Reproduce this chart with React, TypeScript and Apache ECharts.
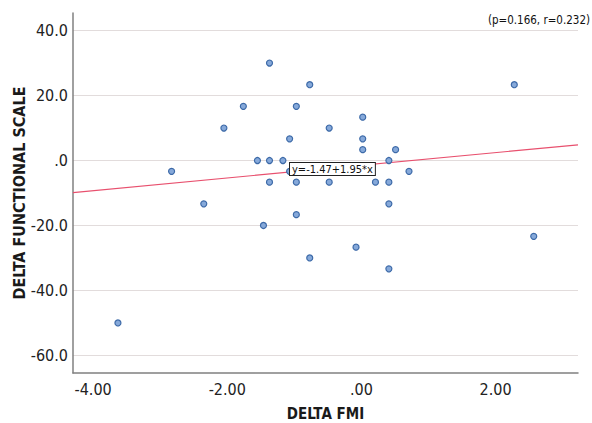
import React, { useEffect, useRef } from "react";
import * as echarts from "echarts";

// Delta FMI (x) and Delta Functional Scale (y)
const fmiDelta = [
  -3.63, -2.83, -2.35, -2.05, -1.76, -1.55, -1.46, -1.37, -1.37, -1.37, -1.17,
  -1.07, -1.07, -0.97, -0.97, -0.97, -0.77, -0.77, -0.48, -0.48, -0.08, 0.02,
  0.02, 0.02, 0.21, 0.41, 0.41, 0.41, 0.41, 0.51, 0.71, 2.28, 2.57,
];
const functionalDelta = [
  -50, -3.33, -13.33, 10, 16.67, 0, -20, 30, 0, -6.67, 0,
  6.67, -3.33, 16.67, -6.67, -16.67, 23.33, -30, 10, -6.67, -26.67, 13.33,
  6.67, 3.33, -6.67, 0, -6.67, -13.33, -33.33, 3.33, -3.33, 23.33, -23.33,
];

const xTicks = [-4, -2, 0, 2];
const yTicks = [-60, -40, -20, 0, 20, 40];
const xRange = [-4.3, 3.23];
const yRange = [-65.4, 45.4];

const intercept = -1.47;
const slope = 1.95;
const fitLabel = "y=-1.47+1.95*x";
const statsLabel = "(p=0.166, r=0.232)";
const xTitle = "DELTA FMI";
const yTitle = "DELTA FUNCTIONAL SCALE";

const FONT = '"Liberation Sans Narrow", "DejaVu Sans Condensed", "Liberation Sans", sans-serif';

function spssFmt(v: number, d: number): string {
  let s = v.toFixed(d);
  if (s.startsWith("0.")) s = s.slice(1);
  else if (s.startsWith("-0.")) s = "-" + s.slice(2);
  return s;
}

export default function App() {
  const ref = useRef<HTMLDivElement>(null);
  useEffect(() => {
    if (!ref.current) return;
    const chart = echarts.init(ref.current, undefined, { renderer: "svg" });
    const points = fmiDelta.map((x, i) => [x, functionalDelta[i]]);
    const fit = xRange.map((x) => [x, intercept + slope * x]);
    chart.setOption({
      animation: false,
      backgroundColor: "#ffffff",
      textStyle: { fontFamily: FONT },
      grid: {
        left: 73,
        right: 14,
        top: 13,
        bottom: 50,
        containLabel: false,
        outerBoundsMode: "none",
      },
      xAxis: {
        type: "value",
        min: xRange[0],
        max: xRange[1],
        name: xTitle,
        nameLocation: "middle",
        nameGap: 33,
        nameMoveOverlap: false,
        nameTextStyle: { fontFamily: FONT, fontSize: 15, fontWeight: "bold", color: "#1a1a1a" },
        axisLine: { show: true, onZero: false, lineStyle: { color: "#808080", width: 1.5 } },
        axisTick: { show: false, customValues: xTicks },
        splitLine: { show: false },
        axisLabel: {
          customValues: xTicks,
          formatter: (v: number) => spssFmt(v, 2),
          fontFamily: FONT,
          fontSize: 16,
          color: "#222",
          margin: 8,
        },
      },
      yAxis: {
        type: "value",
        min: yRange[0],
        max: yRange[1],
        name: yTitle,
        nameLocation: "middle",
        nameGap: 46,
        nameMoveOverlap: false,
        nameTextStyle: { fontFamily: FONT, fontSize: 16, fontWeight: "bold", color: "#1a1a1a" },
        axisLine: { show: true, onZero: false, lineStyle: { color: "#808080", width: 1.5 } },
        axisTick: { show: false, customValues: yTicks },
        splitLine: { show: true, lineStyle: { color: "#e2dcdc", width: 1.2 } },
        axisLabel: {
          customValues: yTicks,
          formatter: (v: number) => spssFmt(v, 1),
          fontFamily: FONT,
          fontSize: 16,
          color: "#222",
          margin: 5,
        },
      },
      series: [
        {
          type: "line",
          data: fit,
          symbol: "none",
          lineStyle: { color: "#e8506e", width: 1.2 },
          silent: true,
          z: 2,
        },
        {
          type: "scatter",
          data: points,
          symbol: "circle",
          symbolSize: 6,
          itemStyle: { color: "#86a9da", borderColor: "#3d6aa8", borderWidth: 1.2, opacity: 1 },
          z: 3,
        },
      ],
      graphic: [
        {
          type: "text",
          right: 2,
          top: 14,
          z: 10,
          style: { text: statsLabel, fontFamily: FONT, fontSize: 11.5, fill: "#111" },
        },
        {
          type: "text",
          left: 289,
          top: 162,
          z: 10,
          style: {
            text: fitLabel,
            fontFamily: FONT,
            fontSize: 11,
            fill: "#111",
            backgroundColor: "#ffffff",
            borderColor: "#222",
            borderWidth: 1,
            padding: [1, 2, 0, 2],
          },
        },
      ],
    });
    return () => chart.dispose();
  }, []);
  return (
    <div
      ref={ref}
      style={{ position: "fixed", left: 0, top: 0, width: 592, height: 423 }}
    />
  );
}
